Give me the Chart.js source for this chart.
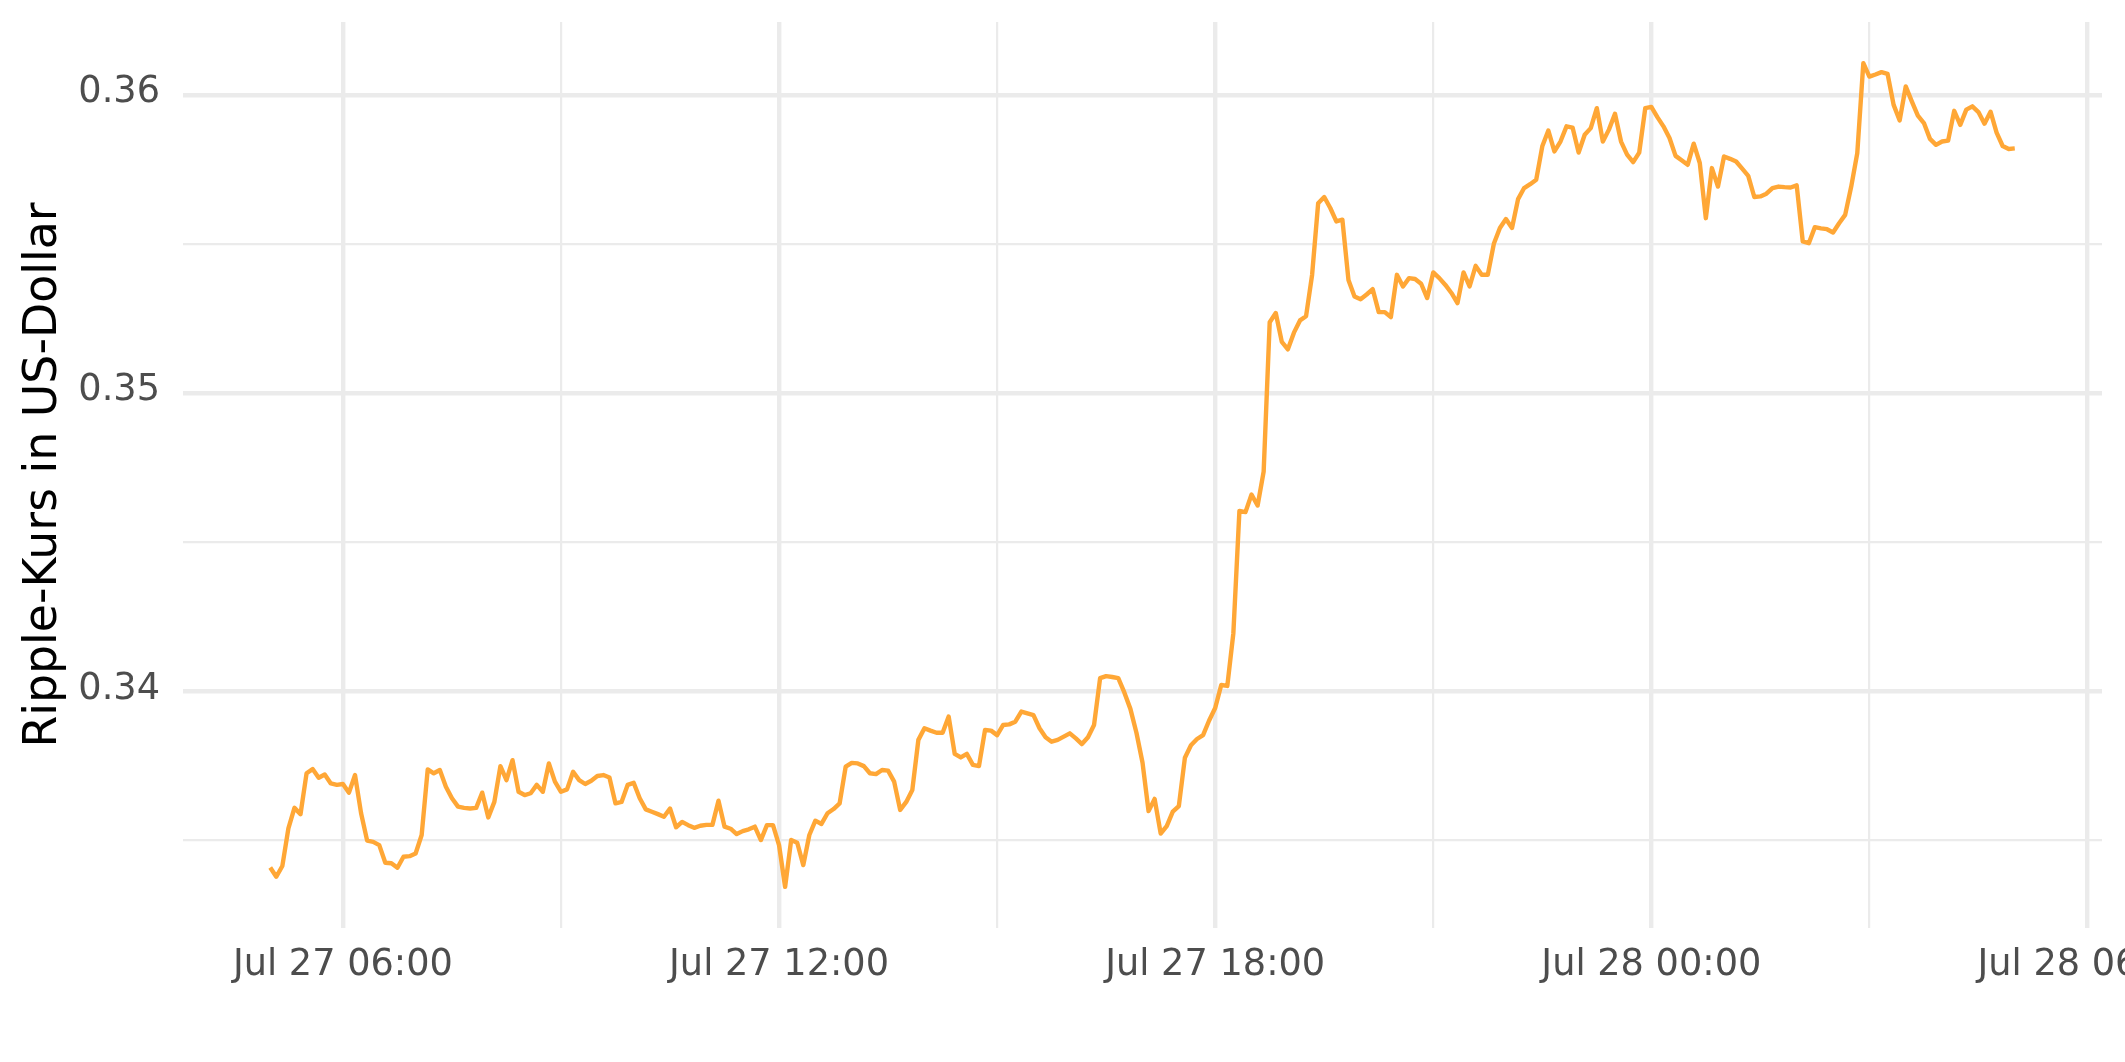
<!DOCTYPE html>
<html>
<head>
<meta charset="utf-8">
<script src="https://cdn.jsdelivr.net/npm/chart.js@4.4.1/dist/chart.umd.min.js"></script>
<style>
  html, body { margin: 0; padding: 0; background: #fff; }
  #wrap { width: 2125px; height: 1062px; }
</style>
</head>
<body>
<div id="wrap"><canvas id="chart" width="2125" height="1062"></canvas></div>
<script>
// Ripple (XRP) price, 27-28 July, one reading every 5 minutes from Jul 27 05:00
const startMinute = 300;      // minutes after Jul 27 00:00
const stepMinutes = 5;

const prices = [
  0.33408, 0.33377, 0.33413, 0.33539, 0.33608, 0.33587, 0.33724, 0.33738, 0.33709, 0.33720,
  0.33690, 0.33685, 0.33688, 0.33659, 0.33718, 0.33590, 0.33498, 0.33494, 0.33483, 0.33424,
  0.33422, 0.33407, 0.33444, 0.33446, 0.33455, 0.33517, 0.33737, 0.33724, 0.33735, 0.33679,
  0.33640, 0.33612, 0.33608, 0.33606, 0.33608, 0.33659, 0.33576, 0.33628, 0.33748, 0.33701,
  0.33768, 0.33662, 0.33651, 0.33657, 0.33685, 0.33662, 0.33757, 0.33696, 0.33662, 0.33670,
  0.33729, 0.33701, 0.33688, 0.33699, 0.33715, 0.33718, 0.33710, 0.33623, 0.33628, 0.33685,
  0.33692, 0.33640, 0.33603, 0.33595, 0.33587, 0.33578, 0.33606, 0.33543, 0.33561, 0.33550,
  0.33541, 0.33548, 0.33551, 0.33551, 0.33632, 0.33545, 0.33538, 0.33520, 0.33530, 0.33536,
  0.33545, 0.33500, 0.33550, 0.33550, 0.33483, 0.33343, 0.33500, 0.33491, 0.33416, 0.33517,
  0.33565, 0.33554, 0.33590, 0.33604, 0.33623, 0.33746, 0.33759, 0.33757, 0.33748, 0.33724,
  0.33721, 0.33735, 0.33733, 0.33696, 0.33601, 0.33628, 0.33668, 0.33836, 0.33875, 0.33867,
  0.33860, 0.33860, 0.33914, 0.33789, 0.33777, 0.33789, 0.33752, 0.33748, 0.33869, 0.33867,
  0.33852, 0.33886, 0.33888, 0.33897, 0.33931, 0.33925, 0.33919, 0.33875, 0.33845, 0.33830,
  0.33836, 0.33847, 0.33858, 0.33841, 0.33822, 0.33845, 0.33886, 0.34043, 0.34050, 0.34047,
  0.34043, 0.33995, 0.33940, 0.33860, 0.33760, 0.33597, 0.33638, 0.33522, 0.33547, 0.33595,
  0.33614, 0.33776, 0.33818, 0.33839, 0.33852, 0.33901, 0.33943, 0.34020, 0.34017, 0.34194,
  0.34604, 0.34600, 0.34659, 0.34622, 0.34736, 0.35237, 0.35268, 0.35171, 0.35146, 0.35202,
  0.35243, 0.35257, 0.35396, 0.35636, 0.35657, 0.35620, 0.35575, 0.35581, 0.35379, 0.35323,
  0.35314, 0.35330, 0.35348, 0.35271, 0.35271, 0.35254, 0.35396, 0.35357, 0.35385, 0.35382,
  0.35366, 0.35318, 0.35404, 0.35385, 0.35362, 0.35335, 0.35301, 0.35404, 0.35357, 0.35426,
  0.35396, 0.35396, 0.35500, 0.35553, 0.35583, 0.35553, 0.35650, 0.35687, 0.35700, 0.35715,
  0.35827, 0.35880, 0.35810, 0.35843, 0.35894, 0.35890, 0.35806, 0.35866, 0.35888, 0.35955,
  0.35843, 0.35883, 0.35936, 0.35843, 0.35799, 0.35774, 0.35806, 0.35955, 0.35959, 0.35925,
  0.35894, 0.35855, 0.35795, 0.35780, 0.35765, 0.35836, 0.35771, 0.35586, 0.35754, 0.35692,
  0.35793, 0.35785, 0.35776, 0.35752, 0.35728, 0.35657, 0.35659, 0.35668, 0.35687, 0.35692,
  0.35690, 0.35689, 0.35696, 0.35508, 0.35502, 0.35556, 0.35552, 0.35549, 0.35538, 0.35569,
  0.35597, 0.35692, 0.35804, 0.36106, 0.36061, 0.36068, 0.36076, 0.36070, 0.35966, 0.35914,
  0.36028, 0.35978, 0.35930, 0.35905, 0.35852, 0.35832, 0.35843, 0.35846, 0.35946, 0.35899,
  0.35950, 0.35961, 0.35942, 0.35903, 0.35943, 0.35873, 0.35828, 0.35818, 0.35820
];

// axis ticks (x in minutes after Jul 27 00:00)
const xMajorTicks = [360, 720, 1080, 1440, 1800];
const xTickLabels = ['Jul 27 06:00', 'Jul 27 12:00', 'Jul 27 18:00', 'Jul 28 00:00', 'Jul 28 06:00'];
const xMinorTicks = [540, 900, 1260, 1620];
const yMajorTicks = [0.34, 0.35, 0.36];
const yMinorTicks = [0.335, 0.345, 0.355];

const yTitle = 'Ripple-Kurs in US-Dollar';

// ---------- chart ----------
const FONT = 'DejaVu Sans';
const GRID = '#EBEBEB';

const points = prices.map(function (v, i) {
    return { x: startMinute + i * stepMinutes, y: v };
});

function isMajor(list, v) {
    return list.some(function (m) { return Math.abs(m - v) < 1e-6; });
}

new Chart(document.getElementById('chart'), {
    type: 'line',
    data: {
        datasets: [{
            data: points,
            borderColor: '#FFA736',
            borderWidth: 4.4,
            borderJoinStyle: 'round',
            pointRadius: 0,
            tension: 0,
            fill: false
        }]
    },
    options: {
        responsive: false,
        animation: false,
        devicePixelRatio: 1,
        layout: { padding: { left: 0, right: 23, top: 22, bottom: 0 } },
        plugins: { legend: { display: false }, tooltip: { enabled: false } },
        scales: {
            x: {
                type: 'linear',
                min: 228, max: 1812,
                afterBuildTicks: function (s) {
                    s.ticks = xMajorTicks.concat(xMinorTicks).sort(function (a, b) { return a - b; })
                        .map(function (v) { return { value: v }; });
                },
                afterFit: function (s) { s.height = 134; s.paddingLeft = 0; s.paddingRight = 0; },
                border: { display: false },
                grid: {
                    color: GRID,
                    drawTicks: false,
                    lineWidth: function (ctx) {
                        return ctx.tick && isMajor(xMajorTicks, ctx.tick.value) ? 4.4 : 2.2;
                    }
                },
                ticks: {
                    autoSkip: false,
                    maxRotation: 0,
                    padding: 15,
                    color: '#4D4D4D',
                    font: { family: FONT, size: 36.7 },
                    callback: function (v) {
                        const i = xMajorTicks.indexOf(v);
                        return i >= 0 ? xTickLabels[i] : '';
                    }
                }
            },
            y: {
                type: 'linear',
                min: 0.33205, max: 0.36244,
                afterBuildTicks: function (s) {
                    s.ticks = yMinorTicks.concat(yMajorTicks).sort(function (a, b) { return a - b; })
                        .map(function (v) { return { value: v }; });
                },
                afterFit: function (s) { s.width = 183; s.paddingTop = 0; s.paddingBottom = 0; },
                border: { display: false },
                grid: {
                    color: GRID,
                    drawTicks: false,
                    lineWidth: function (ctx) {
                        return ctx.tick && isMajor(yMajorTicks, ctx.tick.value) ? 4.4 : 2.2;
                    }
                },
                ticks: {
                    padding: 23,
                    labelOffset: -2,
                    color: '#4D4D4D',
                    font: { family: FONT, size: 36.7 },
                    callback: function (v) {
                        return isMajor(yMajorTicks, v) ? v.toFixed(2) : '';
                    }
                },
                title: {
                    display: true,
                    text: yTitle,
                    color: '#000000',
                    font: { family: FONT, size: 45.8 },
                    padding: { top: 17, bottom: 0 }
                }
            }
        }
    }
});
</script>
</body>
</html>
